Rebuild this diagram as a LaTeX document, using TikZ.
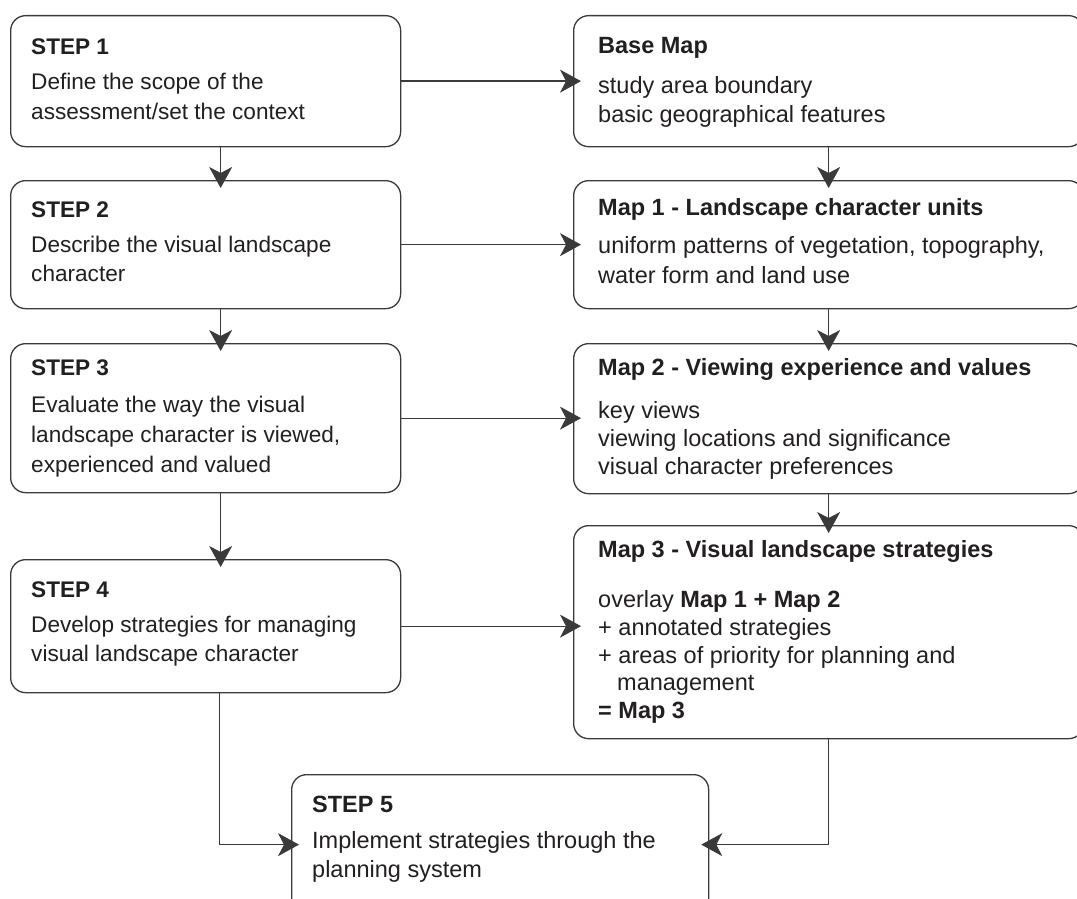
\documentclass[tikz,border=0pt]{standalone}
\usepackage{fontspec}
\setmainfont{Liberation Sans}
\usetikzlibrary{arrows.meta}
\definecolor{linec}{HTML}{3A3A3A}
\definecolor{textc}{HTML}{231F20}
\tikzset{
  box/.style={draw=linec, line width=1.3pt, rounded corners=15pt, inner sep=0pt, anchor=north west, fill=white},
  txt/.style={anchor=base west, inner sep=0pt, text=textc, font=\fontsize{23.5}{28}\selectfont},
  hd/.style={txt, font=\bfseries\fontsize{23.5}{28}\selectfont},
  ltxt/.style={txt, font=\fontsize{22.6}{28}\selectfont},
  lhd/.style={txt, font=\bfseries\fontsize{22.6}{28}\selectfont},
  arr/.style={draw=linec, line width=1.3pt, -{Stealth[length=21pt,width=23pt,inset=6pt]}, shorten >=-8pt},
  ln/.style={draw=linec, line width=1.3pt}
}
\begin{document}
\begin{tikzpicture}[x=1pt,y=-1pt]
\clip (0,0) rectangle (1077,899);
\fill[white] (0,0) rectangle (1077,899);
% boxes
\node[box, minimum width=390pt, minimum height=131pt] (s1) at (10,15) {};
\node[box, minimum width=510pt, minimum height=131pt] (b0) at (573,15) {};
\node[box, minimum width=390pt, minimum height=128pt] (s2) at (10,180) {};
\node[box, minimum width=510pt, minimum height=128pt] (m1) at (573,180) {};
\node[box, minimum width=390pt, minimum height=149pt] (s3) at (10,343) {};
\node[box, minimum width=510pt, minimum height=150pt] (m2) at (573,343) {};
\node[box, minimum width=390pt, minimum height=133pt] (s4) at (10,559) {};
\node[box, minimum width=510pt, minimum height=213pt] (m3) at (573,525) {};
\node[box, minimum width=417pt, minimum height=140pt] (s5) at (291,774) {};
% texts
\node[lhd]  (t1a) at (31,55)  {STEP 1};
\node[ltxt] (t1b) at (31,90)  {Define the scope of the};
\node[ltxt] (t1c) at (31,119) {assessment/set the context};
\node[hd]  (t0a) at (598,54)  {Base Map};
\node[txt] (t0b) at (598,93)  {study area boundary};
\node[txt] (t0c) at (598,122) {basic geographical features};
\node[lhd]  (t2a) at (31,217) {STEP 2};
\node[ltxt] (t2b) at (31,252) {Describe the visual landscape};
\node[ltxt] (t2c) at (31,281) {character};
\node[hd]  (u1a) at (598,215) {Map 1 - Landscape character units};
\node[txt] (u1b) at (598,253) {uniform patterns of vegetation, topography,};
\node[txt] (u1c) at (598,283) {water form and land use};
\node[lhd]  (t3a) at (31,375) {STEP 3};
\node[ltxt] (t3b) at (31,412) {Evaluate the way the visual};
\node[ltxt] (t3c) at (31,442) {landscape character is viewed,};
\node[ltxt] (t3d) at (31,472) {experienced and valued};
\node[hd]  (u2a) at (598,375) {Map 2 - Viewing experience and values};
\node[txt] (u2b) at (598,418) {key views};
\node[txt] (u2c) at (598,446) {viewing locations and significance};
\node[txt] (u2d) at (598,474) {visual character preferences};
\node[lhd]  (t4a) at (31,597) {STEP 4};
\node[ltxt] (t4b) at (31,632) {Develop strategies for managing};
\node[ltxt] (t4c) at (31,661) {visual landscape character};
\node[hd]  (u3a) at (598,557) {Map 3 - Visual landscape strategies};
\node[txt] (u3b) at (598,607) {overlay \textbf{Map 1 + Map 2}};
\node[txt] (u3c) at (598,635) {+ annotated strategies};
\node[txt] (u3d) at (598,663) {+ areas of priority for planning and};
\node[txt] (u3e) at (617,690) {management};
\node[hd]  (u3f) at (598,718) {= Map 3};
\node[hd]  (t5a) at (312,812) {STEP 5};
\node[txt] (t5b) at (312,848) {Implement strategies through the};
\node[txt] (t5c) at (312,877) {planning system};
% connectors
\draw[arr] ([shift={(15,0)}]s1.south) -- ([shift={(15,0)}]s2.north);
\draw[arr] ([shift={(15,0)}]s2.south) -- ([shift={(15,0)}]s3.north);
\draw[arr] ([shift={(15,0)}]s3.south) -- ([shift={(15,0)}]s4.north);
\draw[arr] (b0.south) -- (m1.north);
\draw[arr] (m1.south) -- (m2.north);
\draw[arr] (m2.south) -- (m3.north);
\draw[arr] (s1.east) -- (s1.east -| b0.west);
\draw[arr] (s2.east) -- (s2.east -| m1.west);
\draw[arr] (s3.east) -- (s3.east -| m2.west);
\draw[arr] (s4.east) -- (s4.east -| m3.west);
\draw[arr] ([shift={(14,0)}]s4.south) |- (s5.west);
\draw[arr] (m3.south) |- (s5.east);
\end{tikzpicture}
\end{document}
